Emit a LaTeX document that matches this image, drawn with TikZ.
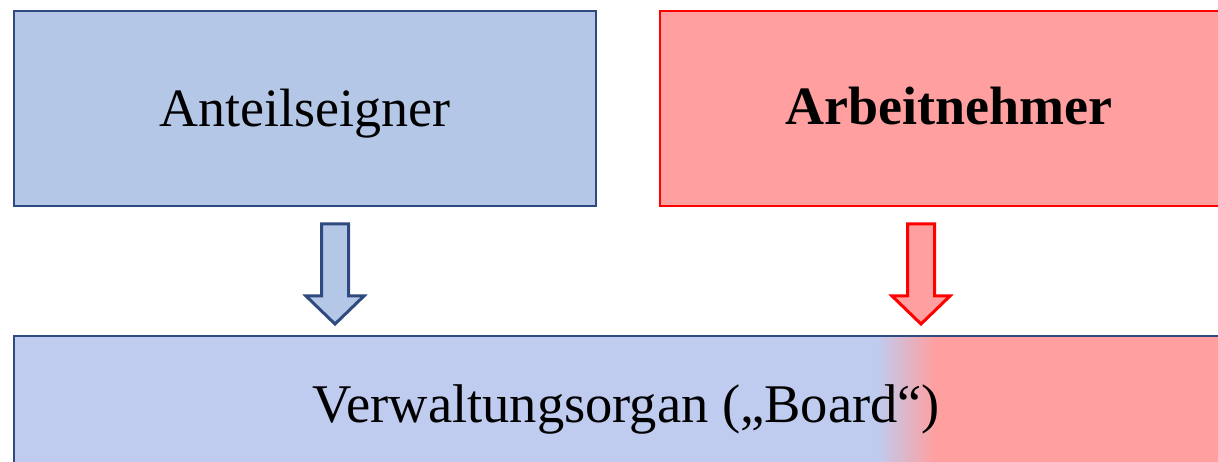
\documentclass[tikz,border=0pt]{standalone}
\usepackage{fontspec}
\setmainfont{Liberation Serif}
\definecolor{bluefill}{HTML}{B4C7E7}
\definecolor{blueline}{HTML}{2F4A7E}
\definecolor{bluelight}{HTML}{BFCBEF}
\definecolor{redfill}{HTML}{FF9F9F}
\definecolor{redline}{HTML}{FF0000}
\tikzset{
  boxtext/.style={font=\fontsize{54}{60}\selectfont, anchor=base, inner sep=0pt},
  boxline/.style={line width=2.2pt},
  arrowline/.style={line width=3pt, line join=miter}
}
\newcommand{\blockarrowat}[2]{% #1 = coordinate name of top-centre, #2 = style
  \draw[arrowline,#2] ([xshift=-13.5pt]#1) -- ([xshift=13.5pt]#1)
    -- ([xshift=13.5pt,yshift=-72pt]#1) -- ([xshift=29pt,yshift=-72pt]#1)
    -- ([yshift=-100pt]#1) -- ([xshift=-29pt,yshift=-72pt]#1)
    -- ([xshift=-13.5pt,yshift=-72pt]#1) -- cycle;}
\begin{document}
\begin{tikzpicture}[x=1pt,y=-1pt]
\useasboundingbox (0,0) rectangle (1218,462);
\clip (0,0) rectangle (1218,462);
% top boxes
\draw[blueline, fill=bluefill, boxline] (14,11) rectangle (596,206);
\node[boxtext] (shtext) at (305,127) {Anteilseigner};
\draw[redline, fill=redfill, boxline] (660,11) rectangle (1240,206);
\node[boxtext, font=\fontsize{54}{60}\selectfont\bfseries] (antext) at (949,125) {Arbeitnehmer};
% bottom box
\fill[bluelight] (14,336) rectangle (878,480);
\shade[left color=bluelight, right color=redfill] (877.5,336) rectangle (935.5,480);
\fill[redfill] (935,336) rectangle (1240,480);
\draw[blueline, boxline] (1240,336) -- (14,336) -- (14,480);
\node[boxtext, font=\fontsize{54.5}{60}\selectfont] (board) at (626.5,422) {Verwaltungsorgan („Board“)};
% arrows
\coordinate (a1) at (335,224);
\coordinate (a2) at (921,224);
\blockarrowat{a1}{draw=blueline, fill=bluefill}
\blockarrowat{a2}{draw=redline, fill=redfill}
\end{tikzpicture}
\end{document}
